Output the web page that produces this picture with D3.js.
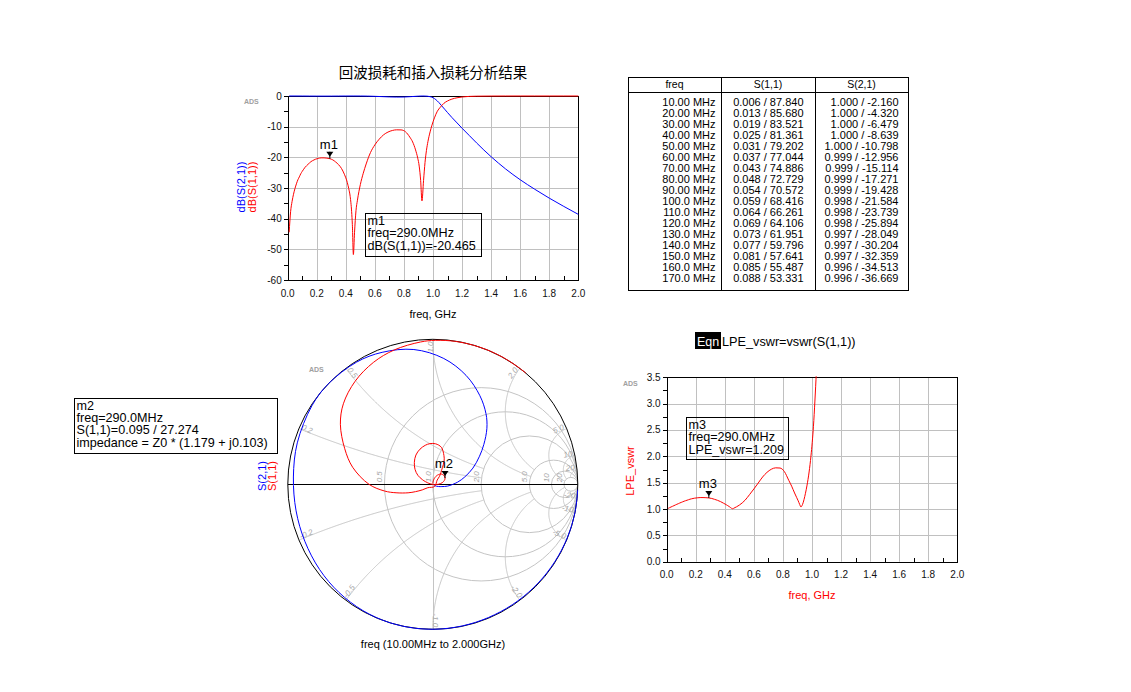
<!DOCTYPE html>
<html><head><meta charset="utf-8">
<script src="https://cdn.jsdelivr.net/npm/d3@7"></script>
<style>body{margin:0;background:#fff;}</style>
</head><body>
<script>
// ---------------- DATA ----------------
const title = "回波损耗和插入损耗分析结果";
const xTickVals = [0,0.2,0.4,0.6,0.8,1.0,1.2,1.4,1.6,1.8,2.0];
const dbTickVals = [0,-10,-20,-30,-40,-50,-60];
const vswrTickVals = [0,0.5,1.0,1.5,2.0,2.5,3.0,3.5];

// S(1,1): frequency (GHz), linear magnitude, angle (deg)
const s11Freq = [0.01,0.02,0.03,0.04,0.05,0.06,0.07,0.08,0.09,0.10,0.11,0.12,0.13,0.14,0.15,0.16,0.17,0.19,0.21,0.23,0.25,0.27,0.29,0.31,0.33,0.35,0.37,0.39,0.41,0.42,0.43,0.44,0.445,0.452,0.46,0.47,0.48,0.50,0.52,0.54,0.57,0.60,0.63,0.66,0.69,0.72,0.75,0.78,0.81,0.84,0.86,0.88,0.895,0.905,0.915,0.924,0.935,0.945,0.955,0.965,0.98,0.993,1.01,1.03,1.05,1.075,1.10,1.13,1.165,1.20,1.25,1.30,1.40,1.50,1.60,1.70,1.80,1.90,2.00];
const s11Mag = [0.006,0.013,0.019,0.025,0.031,0.037,0.043,0.048,0.054,0.059,0.064,0.069,0.073,0.077,0.081,0.085,0.088,0.093,0.096,0.098,0.098,0.097,0.095,0.091,0.084,0.076,0.066,0.053,0.039,0.031,0.023,0.013,0.008,0.0026,0.006,0.0135,0.020,0.036,0.055,0.078,0.120,0.160,0.198,0.233,0.258,0.274,0.281,0.280,0.262,0.214,0.178,0.132,0.097,0.072,0.042,0.0195,0.042,0.082,0.130,0.180,0.26,0.335,0.44,0.565,0.655,0.76,0.83,0.89,0.935,0.964,0.985,0.993,0.998,0.999,1.0,1.0,1.0,1.0,1.0];
const s11Ang = [87.84,85.68,83.52,81.36,79.20,77.04,74.89,72.73,70.57,68.42,66.26,64.11,61.95,59.80,57.64,55.49,53.33,49.0,44.7,40.3,35.9,31.6,27.27,22.9,18.5,14.1,9.7,5.3,0.8,-1.4,-3.6,-5.8,-7.0,-60,172,170,168,164,160,156,149,140,130,120,110,101,94,86,77,69,64,60,55,50,44,-50,214,208,203,199,193,188,180,168,158,147,138,127,116,106,95,89,81,74,68,62,58,54,50];

// S(2,1): frequency (GHz), dB, angle (deg)
const s21Freq = [0.01,0.05,0.1,0.15,0.2,0.25,0.3,0.35,0.4,0.45,0.5,0.55,0.6,0.65,0.7,0.75,0.8,0.85,0.9,0.93,0.96,0.98,1.0,1.02,1.04,1.06,1.08,1.1,1.13,1.16,1.2,1.25,1.3,1.4,1.5,1.6,1.7,1.8,1.9,2.0];
const s21dB = [0,-0.004,-0.015,-0.03,-0.037,-0.042,-0.04,-0.025,-0.007,0,-0.006,-0.04,-0.11,-0.2,-0.3,-0.35,-0.33,-0.2,-0.05,-0.003,-0.06,-0.22,-0.55,-1.2,-2.1,-3.2,-4.3,-5.4,-7.0,-8.5,-10.5,-12.9,-15.3,-19.8,-23.8,-27.3,-30.4,-33.3,-36.0,-38.6];
const s21Ang = [-2.16,-10.8,-21.58,-32.36,-43.15,-53.9,-64.7,-75.5,-86.3,-97.1,-108,-119,-131,-143,-156,-169,-183,-197,-213,-224,-238,-249,-262,-275,-287,-298,-307,-314,-322,-329,-338,-347,-355,-367,-374,-381,-386,-391,-395,-398];

// table
const tableHead = ["freq","S(1,1)","S(2,1)"];
const tableFreq = ["10.00 MHz","20.00 MHz","30.00 MHz","40.00 MHz","50.00 MHz","60.00 MHz","70.00 MHz","80.00 MHz","90.00 MHz","100.0 MHz","110.0 MHz","120.0 MHz","130.0 MHz","140.0 MHz","150.0 MHz","160.0 MHz","170.0 MHz"];
const tableS11 = ["0.006 / 87.840","0.013 / 85.680","0.019 / 83.521","0.025 / 81.361","0.031 / 79.202","0.037 / 77.044","0.043 / 74.886","0.048 / 72.729","0.054 / 70.572","0.059 / 68.416","0.064 / 66.261","0.069 / 64.106","0.073 / 61.951","0.077 / 59.796","0.081 / 57.641","0.085 / 55.487","0.088 / 53.331"];
const tableS21 = ["1.000 / -2.160","1.000 / -4.320","1.000 / -6.479","1.000 / -8.639","1.000 / -10.798","0.999 / -12.956","0.999 / -15.114","0.999 / -17.271","0.999 / -19.428","0.998 / -21.584","0.998 / -23.739","0.998 / -25.894","0.997 / -28.049","0.997 / -30.204","0.997 / -32.359","0.996 / -34.513","0.996 / -36.669"];

// markers
const markerFreq = 0.29;
const m1Text = ["m1","freq=290.0MHz","dB(S(1,1))=-20.465"];
const m1Value = -20.465;
const m2Text = ["m2","freq=290.0MHz","S(1,1)=0.095 / 27.274","impedance = Z0 * (1.179 + j0.103)"];
const m2Mag = 0.095, m2Ang = 27.274;
const m3Text = ["m3","freq=290.0MHz","LPE_vswr=1.209"];
const m3Value = 1.209;

// Smith grid
const smithRVals = [0.5,1,2,5,10,20];
const smithRLabels = ["0.5","1.0","2.0","5.0","10","20"];
const smithXVals = [0.2,0.5,1,2,5,10,20];
const smithXLabels = ["0.2","0.5","1.0","2.0","5.0","10","20"];

// ---------------- DRAW ----------------
const FONT = '"Liberation Sans", Arial, Helvetica, sans-serif';
const GRID = "#c0c0c0";
const SGRID = "#c4c4c4";
const svg = d3.select("body").append("svg").attr("width",1131).attr("height",692)
  .style("font-family",FONT);
const defs = svg.append("defs");

function txt(g,x,y,s,o={}){
  const t=g.append("text").attr("x",x).attr("y",y).text(s)
    .style("font-size",(o.size||11)+"px").attr("fill",o.fill||"#000");
  if(o.family) t.style("font-family",o.family);
  if(o.anchor) t.attr("text-anchor",o.anchor);
  if(o.rot!=null) t.attr("transform",`rotate(${o.rot},${x},${y})`);
  if(o.weight) t.style("font-weight",o.weight);
  if(o.style) t.style("font-style",o.style);
  return t;
}
function adsTag(x,y){ txt(svg,x,y,"ADS",{size:7,fill:"#a0a0a0",weight:"bold"}); }

function marker(g,x,y,label){
  g.append("path").attr("d",`M${x-3.5},${y-7}L${x+3.5},${y-7}L${x},${y-2}Z`).attr("fill","#000");
  g.append("line").attr("x1",x).attr("x2",x).attr("y1",y-7).attr("y2",y).attr("stroke","#000");
  txt(g,x-1,y-10,label,{size:13,anchor:"middle"});
}
function markerBox(g,x0,y0,x1,y1,lines,dy){
  g.append("rect").attr("x",x0+0.5).attr("y",y0+0.5).attr("width",x1-x0).attr("height",y1-y0)
    .attr("fill","none").attr("stroke","#000");
  lines.forEach((s,i)=>txt(g,x0+2.5,y0+11.5+i*dy,s,{size:12.6}));
}

function rectPlot(o){
  const g = svg.append("g");
  const xs = d3.scaleLinear().domain([0,2]).range([o.x0,o.x1]);
  const ys = d3.scaleLinear().domain(o.yDom).range([o.y1,o.y0]);
  g.selectAll(".vg").data(xTickVals.slice(1,-1)).enter().append("line")
    .attr("x1",d=>Math.round(xs(d))+0.5).attr("x2",d=>Math.round(xs(d))+0.5)
    .attr("y1",o.y0).attr("y2",o.y1).attr("stroke",GRID);
  g.selectAll(".hg").data(o.yTicks.slice(1,-1)).enter().append("line")
    .attr("y1",d=>Math.round(ys(d))+0.5).attr("y2",d=>Math.round(ys(d))+0.5)
    .attr("x1",o.x0).attr("x2",o.x1).attr("stroke",GRID);
  g.append("rect").attr("x",Math.round(o.x0)+0.5).attr("y",Math.round(o.y0)+0.5)
    .attr("width",Math.round(o.x1)-Math.round(o.x0)).attr("height",Math.round(o.y1)-Math.round(o.y0))
    .attr("fill","none").attr("stroke","#000");
  const xm = d3.range(1,20,2).map(i=>i/10);
  g.selectAll(".xm").data(xm).enter().append("line")
    .attr("x1",d=>Math.round(xs(d))+0.5).attr("x2",d=>Math.round(xs(d))+0.5)
    .attr("y1",Math.round(o.y1)).attr("y2",Math.round(o.y1)-4).attr("stroke","#000");
  const ya = d3.range(0,o.yTicks.length*2-1).map(i=>o.yDom[0]+i*o.yMinorStep);
  g.selectAll(".yt").data(ya).enter().append("line")
    .attr("y1",d=>Math.round(ys(d))+0.5).attr("y2",d=>Math.round(ys(d))+0.5)
    .attr("x1",Math.round(o.x0)-4).attr("x2",Math.round(o.x0)).attr("stroke","#000");
  g.selectAll(".xl").data(xTickVals).enter().append("text")
    .attr("x",d=>xs(d)).attr("y",o.y1+16.5).attr("text-anchor","middle")
    .style("font-size","10px").attr("fill","#111").text(d=>d.toFixed(1));
  g.selectAll(".yl").data(o.yTicks).enter().append("text")
    .attr("x",o.x0-6).attr("y",d=>ys(d)+3.5).attr("text-anchor","end")
    .style("font-size","10px").attr("fill","#111").text(o.yFmt);
  const id = "clip"+o.id;
  defs.append("clipPath").attr("id",id).append("rect")
    .attr("x",o.x0).attr("y",o.y0-1).attr("width",o.x1-o.x0+1).attr("height",o.y1-o.y0+2);
  const cg = svg.append("g").attr("clip-path",`url(#${id})`);
  return {g,cg,xs,ys};
}

// ---- Title
txt(svg,433,78,title,{size:14.5,anchor:"middle",family:'"Noto Sans CJK SC", sans-serif'});

// ---- Top dB plot
const P1 = rectPlot({id:1,x0:287.7,x1:578.3,y0:96,y1:280,yDom:[-60,0],yTicks:dbTickVals.slice().reverse(),yMinorStep:5,yFmt:d=>d});
adsTag(244,104);
const s11Pts = s11Freq.map((f,i)=>({f,m:s11Mag[i],a:s11Ang[i]}));
const s21Pts = s21Freq.map((f,i)=>({f,db:s21dB[i],a:s21Ang[i]}));
const lineDb = d3.line().curve(d3.curveMonotoneX);
P1.cg.append("path").attr("d",lineDb(s21Pts.map(p=>[P1.xs(p.f),P1.ys(p.db)])))
  .attr("fill","none").attr("stroke","#0000ff").attr("stroke-width",1);
P1.cg.append("path").attr("d",lineDb(s11Pts.map(p=>[P1.xs(p.f),P1.ys(20*Math.log10(Math.max(p.m,1e-6)))])))
  .attr("fill","none").attr("stroke","#ff0000").attr("stroke-width",1);
txt(svg,433,318,"freq, GHz",{size:11,anchor:"middle"});
txt(svg,244.5,187,"dB(S(2,1))",{size:11,anchor:"middle",rot:-90,fill:"#0000ff"});
txt(svg,255.5,187,"dB(S(1,1))",{size:11,anchor:"middle",rot:-90,fill:"#ff0000"});
marker(svg,P1.xs(markerFreq),P1.ys(m1Value),"m1");
markerBox(svg,365,213,481,256,m1Text,12.8);

// ---- Table
(function(){
  const g = svg.append("g");
  const x0=628,x1=908,y0=77,y1=290,c1=721,c2=815,hy=92;
  g.append("rect").attr("x",x0+0.5).attr("y",y0+0.5).attr("width",x1-x0).attr("height",y1-y0).attr("fill","none").attr("stroke","#000");
  g.append("line").attr("x1",x0).attr("x2",x1).attr("y1",hy+0.5).attr("y2",hy+0.5).attr("stroke","#000");
  [c1,c2].forEach(c=>g.append("line").attr("x1",c+0.5).attr("x2",c+0.5).attr("y1",y0).attr("y2",y1).attr("stroke","#000"));
  const hc=[(x0+c1)/2,(c1+c2)/2,(c2+x1)/2];
  tableHead.forEach((h,i)=>txt(g,hc[i],88,h,{size:10.5,anchor:"middle"}));
  const cols=[[tableFreq,715.5],[tableS11,803.5],[tableS21,898.5]];
  cols.forEach(([arr,xr])=>arr.forEach((s,i)=>txt(g,xr,106+i*11,s,{size:11,anchor:"end"})));
})();

// ---- Smith chart
const SC = {cx:432.8, cy:484.3, R:145};
const sx = d3.scaleLinear().domain([-1,1]).range([SC.cx-SC.R, SC.cx+SC.R]);
const sy = d3.scaleLinear().domain([-1,1]).range([SC.cy+SC.R, SC.cy-SC.R]);
function gam(r,x){ const d=(r+1)*(r+1)+x*x; return [(r*r+x*x-1)/d, 2*x/d]; }
(function(){
  const g = svg.append("g");
  defs.append("clipPath").attr("id","smclip").append("circle").attr("cx",SC.cx).attr("cy",SC.cy).attr("r",SC.R);
  const gg = g.append("g").attr("clip-path","url(#smclip)");
  const ln = d3.line();
  smithRVals.forEach(r=>{
    gg.append("circle").attr("cx",sx(r/(1+r))).attr("cy",SC.cy).attr("r",SC.R/(1+r))
      .attr("fill","none").attr("stroke",SGRID);
  });
  const rEnd = {0.2:2,0.5:2,1:5,2:5,5:20,10:20,20:20};
  smithXVals.forEach(x=>{
    [x,-x].forEach(xx=>{
      const pts=d3.range(0,301).map(i=>{const r=rEnd[x]*Math.pow(i/300,2); const G=gam(r,xx); return [sx(G[0]),sy(G[1])];});
      gg.append("path").attr("d",ln(pts)).attr("fill","none").attr("stroke",SGRID);
    });
  });
  // vertical line through the centre (|z| = 1)
  gg.append("line").attr("x1",Math.round(sx(0))+0.5).attr("x2",Math.round(sx(0))+0.5)
    .attr("y1",sy(1)).attr("y2",sy(-1)).attr("stroke",SGRID);
  smithRVals.forEach((r,i)=>{
    const X = sx((r-1)/(r+1));
    txt(g,X-2,SC.cy-2,smithRLabels[i],{size:8,fill:"#a8a8a8",rot:-90,style:"italic"});
  });
  smithXVals.forEach((x,i)=>{
    [[x,smithXLabels[i]],[-x,"-"+smithXLabels[i]]].forEach(([xx,lab])=>{
      const G=gam(0,xx); const th=Math.atan2(G[1],G[0]);
      const px=SC.cx+SC.R*0.985*Math.cos(th), py=SC.cy-SC.R*0.985*Math.sin(th);
      const deg=-th*180/Math.PI;
      if(Math.cos(th)>=-0.01) txt(g,px,py,lab,{size:8,fill:"#a8a8a8",rot:deg,anchor:"end",style:"italic"});
      else txt(g,px,py,lab,{size:8,fill:"#a8a8a8",rot:deg+180,anchor:"start",style:"italic"});
    });
  });
  g.append("line").attr("x1",SC.cx-SC.R).attr("x2",SC.cx+SC.R).attr("y1",Math.round(SC.cy)+0.5).attr("y2",Math.round(SC.cy)+0.5).attr("stroke","#000");
  g.append("circle").attr("cx",SC.cx).attr("cy",SC.cy).attr("r",SC.R).attr("fill","none").attr("stroke","#000");
  const lc = d3.line().curve(d3.curveCatmullRom.alpha(0.5));
  const pol = (m,a)=>[sx(m*Math.cos(a*Math.PI/180)), sy(m*Math.sin(a*Math.PI/180))];
  g.append("path").attr("d",lc(s21Pts.map(p=>pol(Math.pow(10,p.db/20),p.a))))
    .attr("fill","none").attr("stroke","#0000ff");
  g.append("path").attr("d",lc(s11Pts.map(p=>pol(p.m,p.a))))
    .attr("fill","none").attr("stroke","#ff0000");
  const mp = pol(m2Mag,m2Ang);
  marker(g,mp[0],mp[1],"m2");
})();
adsTag(309,372);
txt(svg,266,476,"S(2,1)",{size:11,anchor:"middle",rot:-90,fill:"#0000ff"});
txt(svg,276,476,"S(1,1)",{size:11,anchor:"middle",rot:-90,fill:"#ff0000"});
txt(svg,433,648,"freq (10.00MHz to 2.000GHz)",{size:11,anchor:"middle"});
markerBox(svg,74,398,277,453,m2Text,12.4);

// ---- VSWR plot
svg.append("rect").attr("x",695).attr("y",332).attr("width",26).attr("height",17).attr("fill","#000");
txt(svg,697,345.5,"Eqn",{size:12.5,fill:"#fff"});
txt(svg,722,345.5,"LPE_vswr=vswr(S(1,1))",{size:12.7});
const P3 = rectPlot({id:3,x0:666.7,x1:957.3,y0:377.3,y1:561.7,yDom:[0,3.5],yTicks:vswrTickVals,yMinorStep:0.25,yFmt:d=>d.toFixed(1)});
adsTag(623,386);
P3.cg.append("path").attr("d",lineDb(s11Pts.map(p=>{const m=Math.min(p.m,0.999); return [P3.xs(p.f),P3.ys((1+m)/(1-m))];})))
  .attr("fill","none").attr("stroke","#ff0000");
txt(svg,812,599,"freq, GHz",{size:11,anchor:"middle",fill:"#ff0000"});
txt(svg,634,471,"LPE_vswr",{size:11,anchor:"middle",rot:-90,fill:"#ff0000"});
marker(svg,P3.xs(markerFreq),P3.ys(m3Value),"m3");
markerBox(svg,686,417,788,459,m3Text,12.6);
</script>
</body></html>
